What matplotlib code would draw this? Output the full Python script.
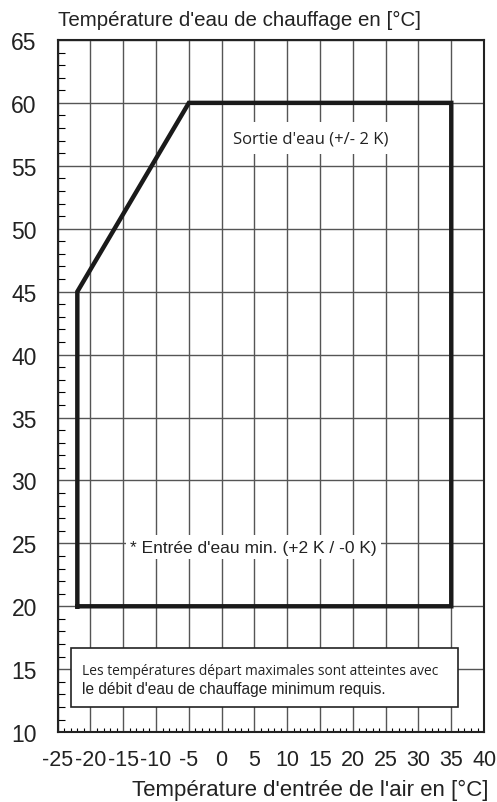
import matplotlib
matplotlib.use("Agg")
import matplotlib.pyplot as plt
from matplotlib.patches import Rectangle
from matplotlib.ticker import MultipleLocator

# operating envelope (air inlet temp, heating water temp)
env_x = [-22, -22, -5, 35, 35, -22]
env_y = [20, 45, 60, 60, 20, 20]

x_ticks = list(range(-25, 45, 5))
y_ticks = list(range(10, 70, 5))

plt.rcParams['axes.unicode_minus'] = False

fig = plt.figure(figsize=(4.97, 8.03), dpi=100)
ax = fig.add_axes([0.116, 0.087, 0.858, 0.862])

ax.set_xlim(-25, 40)
ax.set_ylim(10, 65)
ax.set_xticks(x_ticks)
ax.set_yticks(y_ticks)
ax.set_xticklabels([str(v) for v in x_ticks])
ax.xaxis.set_minor_locator(MultipleLocator(1))
ax.yaxis.set_minor_locator(MultipleLocator(1))
ax.tick_params(which='both', direction='in', top=False, right=False)
ax.tick_params(which='major', length=0, labelsize=16.5, pad=15, labelcolor='#222222')
ax.tick_params(axis='x', which='major', pad=12)
ax.tick_params(axis='y', which='minor', length=5, width=0.8)
ax.tick_params(axis='x', which='minor', length=3, width=0.8)
for lab in ax.get_xticklabels() + ax.get_yticklabels():
    lab.set_family('Liberation Sans')
for lab in ax.get_xticklabels():
    lab.set_fontsize(15.5)
ax.grid(True, which='major', color='#555555', linewidth=1.0)
ax.set_axisbelow(True)
for s in ax.spines.values():
    s.set_linewidth(1.5)
    s.set_color('#222222')

ax.plot(env_x, env_y, color='#1a1a1a', linewidth=3.2, solid_joinstyle='miter', zorder=3)

ax.text(13.5, 57.2, "Sortie d'eau (+/- 2 K)", family='Open Sans', fontsize=12,
        ha='center', va='center', zorder=4, color='#222222',
        bbox=dict(facecolor='white', edgecolor='none', pad=6))
ax.text(4.8, 24.7, "* Entrée d'eau min. (+2 K / -0 K)", family='Liberation Sans', fontsize=12.5,
        ha='center', va='center', zorder=4, color='#222222',
        bbox=dict(facecolor='white', edgecolor='none', pad=3))

ax.add_patch(Rectangle((-23, 12), 59, 4.7, facecolor='white', edgecolor='#222222',
                       linewidth=1.2, zorder=4))
ax.text(-21.3, 14.9, "Les températures départ maximales sont atteintes avec",
        family='Open Sans', fontsize=9.9, ha='left', va='center', zorder=5, color='#222222')
ax.text(-21.3, 13.5, "le débit d'eau de chauffage minimum requis.",
        family='Liberation Sans', fontsize=11.2, ha='left', va='center', zorder=5, color='#222222')

fig.text(0.117, 0.975, "Température d'eau de chauffage en [°C]", family='Liberation Sans',
         fontsize=14.8, ha='left', va='center', color='#222222')
fig.text(0.983, 0.016, "Température d'entrée de l'air en [°C]", family='Liberation Sans',
         fontsize=16, ha='right', va='center', color='#222222')

plt.savefig('out.png', dpi=100)
